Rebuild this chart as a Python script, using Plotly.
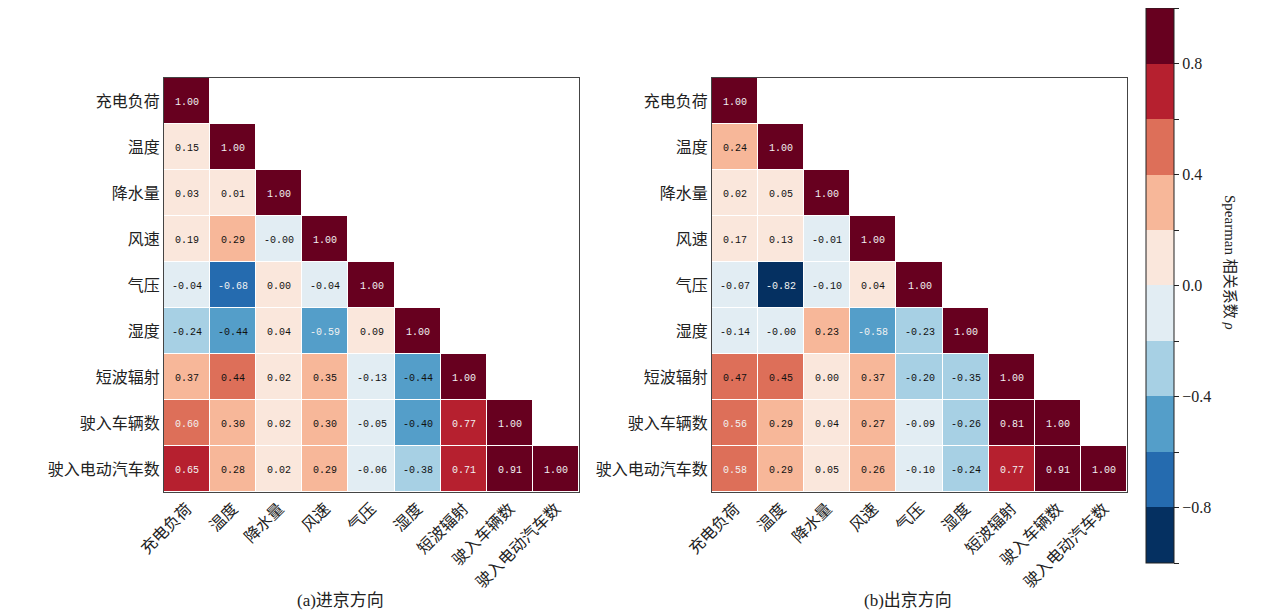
import plotly.graph_objects as go
from plotly.subplots import make_subplots

# variables (same order on both axes)
labels = ["充电负荷", "温度", "降水量", "风速", "气压", "湿度", "短波辐射", "驶入车辆数", "驶入电动汽车数"]

# lower triangle of the Spearman matrices, row by row
# (-0.001 / -0.403 keep the sign / bin seen in the picture)
rho_in = [
    [1.00],
    [0.15, 1.00],
    [0.03, 0.01, 1.00],
    [0.19, 0.29, -0.001, 1.00],
    [-0.04, -0.68, 0.00, -0.04, 1.00],
    [-0.24, -0.44, 0.04, -0.59, 0.09, 1.00],
    [0.37, 0.44, 0.02, 0.35, -0.13, -0.44, 1.00],
    [0.60, 0.30, 0.02, 0.30, -0.05, -0.403, 0.77, 1.00],
    [0.65, 0.28, 0.02, 0.29, -0.06, -0.38, 0.71, 0.91, 1.00],
]
rho_out = [
    [1.00],
    [0.24, 1.00],
    [0.02, 0.05, 1.00],
    [0.17, 0.13, -0.01, 1.00],
    [-0.07, -0.82, -0.10, 0.04, 1.00],
    [-0.14, -0.001, 0.23, -0.58, -0.23, 1.00],
    [0.47, 0.45, 0.00, 0.37, -0.20, -0.35, 1.00],
    [0.56, 0.29, 0.04, 0.27, -0.09, -0.26, 0.81, 1.00],
    [0.58, 0.29, 0.05, 0.26, -0.10, -0.24, 0.77, 0.91, 1.00],
]
captions = ["(a)进京方向", "(b)出京方向"]

# RdBu_r cut into 10 bins
bins = ["#053061", "#256baf", "#549ec9", "#a7d0e4", "#e2edf3",
        "#fae7dc", "#f7b799", "#dd6f59", "#b6202f", "#67001f"]
colorscale = []
for i, c in enumerate(bins):
    colorscale.append([i / 10, c])
    colorscale.append([(i + 1) / 10, c])

W, H = 1268, 613


def full(tri, keep):
    n = len(labels)
    z = [[None] * n for _ in range(n)]
    txt = [[""] * n for _ in range(n)]
    for i, row in enumerate(tri):
        for j, v in enumerate(row):
            if keep(v):
                z[i][j] = v
                txt[i][j] = f"{v:.2f}"
    return z, txt


fig = make_subplots(rows=1, cols=2)

for k, tri in enumerate([rho_in, rho_out]):
    # dark cells get white text, light cells black text
    for keep, tc in [(lambda v: abs(v) >= 0.5, "#f2f2f2"), (lambda v: abs(v) < 0.5, "#111")]:
        z, txt = full(tri, keep)
        fig.add_trace(go.Heatmap(
            z=z, x=labels, y=labels, text=txt,
            coloraxis="coloraxis", xgap=1, ygap=1,
            texttemplate="%{text}",
            textfont=dict(family="Liberation Mono", size=10, color=tc),
            hoverongaps=False,
        ), row=1, col=k + 1)

axis_style = dict(showline=True, mirror=True, linecolor="#444", linewidth=1,
                  showgrid=False, zeroline=False, ticks="", automargin=False,
                  tickfont=dict(family="Noto Sans CJK SC", size=16, color="#222"))

fig.update_xaxes(axis_style, tickangle=-45)
fig.update_yaxes(axis_style, autorange="reversed")
fig.update_layout(
    xaxis=dict(domain=[156 / W, 571 / W]),
    xaxis2=dict(domain=[704 / W, 1119 / W]),
    yaxis=dict(domain=[1 - 484 / H, 1 - 70 / H]),
    yaxis2=dict(domain=[1 - 484 / H, 1 - 70 / H]),
)

tick_vals = [-1.0, -0.8, -0.6, -0.4, -0.2, 0.0, 0.2, 0.4, 0.6, 0.8, 1.0]
tick_text = ["", "−0.8", "", "−0.4", "", "0.0", "", "0.4", "", "0.8", ""]

fig.update_layout(
    width=W, height=H,
    margin=dict(l=0, r=0, t=0, b=0, autoexpand=False),
    paper_bgcolor="white", plot_bgcolor="white",
    coloraxis=dict(
        colorscale=colorscale, cmin=-1, cmax=1,
        colorbar=dict(
            x=1138 / W, xanchor="left", xpad=0,
            y=1 - 277.5 / H, yanchor="middle", ypad=0,
            len=555, lenmode="pixels", thickness=28, thicknessmode="pixels",
            outlinewidth=1, outlinecolor="#222",
            tickmode="array", tickvals=tick_vals, ticktext=tick_text,
            ticks="outside", ticklen=5, tickcolor="#222",
            tickfont=dict(family="Liberation Serif", size=16, color="#222"),
        ),
    ),
    showlegend=False,
)

# colorbar title, reading top to bottom
fig.add_annotation(
    text="Spearman 相关系数 <i>ρ</i>", textangle=90,
    x=1222 / W, y=1 - 254 / H, xref="paper", yref="paper",
    xanchor="center", yanchor="middle", showarrow=False,
    font=dict(family="Liberation Serif, Noto Sans CJK SC", size=15, color="#222"),
)

for cx, cap in zip([333, 900], captions):
    fig.add_annotation(
        text=cap, x=cx / W, y=1 - 592 / H, xref="paper", yref="paper",
        xanchor="center", yanchor="middle", showarrow=False,
        font=dict(family="Liberation Serif, Noto Sans CJK SC", size=17, color="#222"),
    )

fig.write_html("out.html")
